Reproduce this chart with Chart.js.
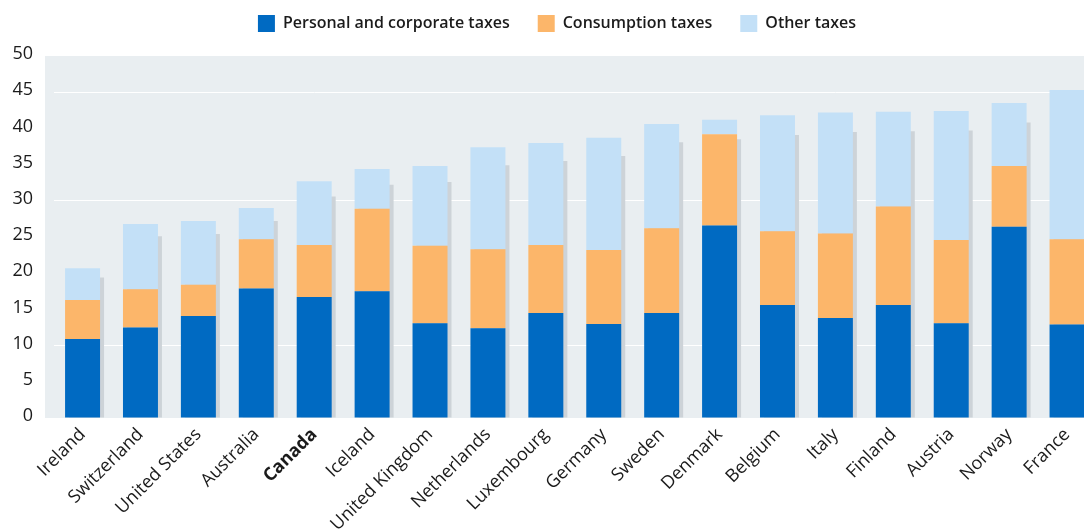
<!DOCTYPE html>
<html>
<head>
<meta charset="utf-8">
<script src="https://cdn.jsdelivr.net/npm/chart.js@4/dist/chart.umd.min.js"></script>
<style>
  html, body { margin: 0; padding: 0; background: #ffffff; overflow: hidden; }
  #wrap { position: relative; width: 1096px; height: 529px; }
</style>
</head>
<body>
<div id="wrap"><canvas id="chart"></canvas></div>
<script>
// Tax revenue by type, % of GDP
const countries = ['Ireland', 'Switzerland', 'United States', 'Australia', 'Canada', 'Iceland',
  'United Kingdom', 'Netherlands', 'Luxembourg', 'Germany', 'Sweden', 'Denmark', 'Belgium',
  'Italy', 'Finland', 'Austria', 'Norway', 'France'];
const personalCorporate = [10.9, 12.5, 14.1, 17.9, 16.7, 17.5, 13.1, 12.4, 14.5, 13.0, 14.5, 26.6, 15.6, 13.8, 15.6, 13.1, 26.4, 12.9];
const consumption = [5.4, 5.3, 4.3, 6.8, 7.2, 11.4, 10.7, 10.9, 9.4, 10.2, 11.7, 12.6, 10.2, 11.7, 13.6, 11.5, 8.4, 11.8];
const otherTaxes = [4.4, 9.0, 8.8, 4.3, 8.8, 5.5, 11.0, 14.1, 14.1, 15.5, 14.4, 2.0, 16.0, 16.7, 13.1, 17.8, 8.7, 20.6];
const shadowTotals = [19.4, 25.1, 25.4, 27.2, 30.6, 32.2, 32.6, 34.9, 35.5, 36.2, 38.1, 38.5, 39.1, 39.5, 39.6, 39.7, 40.8, 42.4];
const yTicks = [0, 5, 10, 15, 20, 25, 30, 35, 40, 45, 50];
const gridValues = [10, 30, 45];
const highlighted = 'Canada';

const FONT = '"Open Sans", "Noto Sans", sans-serif';
const TEXT = '#1b1b1b';

// Grey plot panel behind the bars
const panelPlugin = {
  id: 'panel',
  beforeDraw(chart) {
    const { ctx, chartArea } = chart;
    ctx.save();
    ctx.fillStyle = '#E9EEF1';
    ctx.fillRect(45, chartArea.top, chartArea.right - 45, chartArea.bottom - chartArea.top);
    ctx.restore();
  }
};

// Shift the shadow series a few pixels to the right
const shadowShift = {
  id: 'shadowShift',
  beforeDatasetDraw(chart, args) {
    if (chart.data.datasets[args.index].isShadow) {
      chart.ctx.save();
      chart.ctx.translate(4, 0);
    }
  },
  afterDatasetDraw(chart, args) {
    if (chart.data.datasets[args.index].isShadow) chart.ctx.restore();
  }
};

// Fixed legend band height, items nudged up and centred over the panel
const legendBand = {
  id: 'legendBand',
  afterInit(chart) {
    const lg = chart.legend;
    if (!lg) return;
    const orig = lg.fit;
    lg.fit = function () { orig.call(this); this.height = 56; };
  },
  afterLayout(chart) {
    const lg = chart.legend;
    if (!lg) return;
    lg.left += 18;
    lg.top -= 13;
    lg.bottom -= 13;
  }
};

new Chart(document.getElementById('chart'), {
  type: 'bar',
  data: {
    labels: countries,
    datasets: [
      { label: 'Personal and corporate taxes', data: personalCorporate, backgroundColor: '#006AC2', stack: 'tax', order: 0 },
      { label: 'Consumption taxes', data: consumption, backgroundColor: '#FCB66A', stack: 'tax', order: 0 },
      { label: 'Other taxes', data: otherTaxes, backgroundColor: '#C3E0F7', stack: 'tax', order: 0 },
      { label: 'shadow', data: shadowTotals, backgroundColor: '#CDD3D8', stack: 'shadow', grouped: false, order: 1, isShadow: true }
    ]
  },
  options: {
    responsive: true,
    maintainAspectRatio: false,
    animation: false,
    devicePixelRatio: 1,
    layout: { padding: 0 },
    datasets: { bar: { categoryPercentage: 1, barPercentage: 0.604 } },
    plugins: {
      tooltip: { enabled: false },
      legend: {
        position: 'top',
        align: 'center',
        labels: {
          filter: item => item.datasetIndex < 3,
          boxWidth: 17,
          boxHeight: 17,
          padding: 28,
          color: TEXT,
          font: { family: FONT, size: 16, weight: '600' }
        }
      }
    },
    scales: {
      x: {
        stacked: true,
        grid: { display: false, drawTicks: false },
        border: { display: false },
        afterFit: s => { s.height = 111; },
        ticks: {
          autoSkip: false,
          maxRotation: 45,
          minRotation: 45,
          padding: 6,
          color: TEXT,
          font: ctx => ({ family: FONT, size: 18, weight: countries[ctx.index] === highlighted ? '700' : '400' })
        }
      },
      y: {
        stacked: true,
        min: 0,
        max: 50,
        afterFit: s => { s.width = 53.6; },
        afterBuildTicks: s => { s.ticks = yTicks.map(v => ({ value: v })); },
        grid: {
          drawTicks: false,
          lineWidth: 1,
          color: ctx => (ctx.tick && gridValues.includes(ctx.tick.value)) ? '#ffffff' : 'rgba(0,0,0,0)'
        },
        border: { display: false },
        ticks: {
          padding: 20.6,
          labelOffset: -2,
          color: TEXT,
          font: { family: FONT, size: 18 }
        }
      }
    }
  },
  plugins: [panelPlugin, shadowShift, legendBand]
});
</script>
</body>
</html>
